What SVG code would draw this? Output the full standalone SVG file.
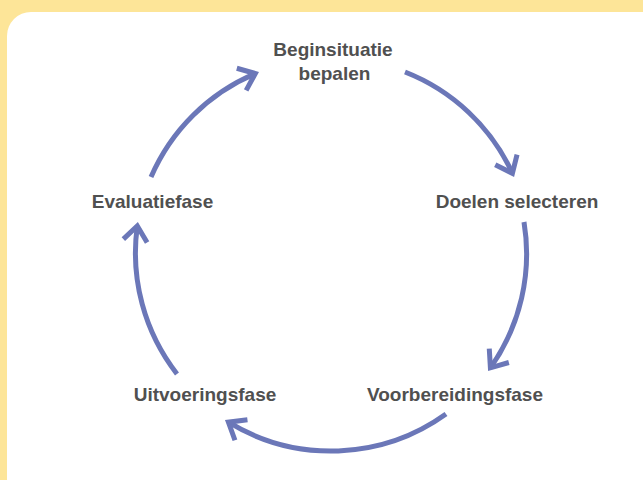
<svg xmlns="http://www.w3.org/2000/svg" width="643" height="480" viewBox="0 0 643 480">
  <defs>
    <style>
      .lbl { font-family: "Liberation Sans", Arial, sans-serif; font-weight: bold; font-size: 19px; fill: #505050; text-anchor: middle; }
      .arc { fill: none; stroke: #6b77b8; stroke-width: 5; marker-end: url(#head); }
    </style>
    <marker id="head" markerUnits="userSpaceOnUse" orient="auto" refX="0" refY="0" markerWidth="40" markerHeight="40" viewBox="-20 -20 40 40" overflow="visible">
      <path d="M -15 -12 L 0 0 L -15 12" fill="none" stroke="#6b77b8" stroke-width="5" stroke-linejoin="miter"/>
    </marker>
  </defs>
  <rect x="0" y="0" width="643" height="480" fill="#fde598"/>
  <rect x="7" y="12" width="660" height="490" rx="24" ry="24" fill="#ffffff"/>

  <g id="connectors">
    <path class="arc" d="M 405 72 A 197 197 0 0 1 512.4 173.3"/>
    <path class="arc" d="M 524 222 A 197 197 0 0 1 490.4 367.8"/>
    <path class="arc" d="M 446 414 A 197 197 0 0 1 228.4 422.2"/>
    <path class="arc" d="M 177 374 A 197 197 0 0 1 137.3 225.9"/>
    <path class="arc" d="M 151 177 A 197 197 0 0 1 255.3 73.5"/>
  </g>

  <g id="node-beginsituatie">
    <text class="lbl" x="333" y="56">Beginsituatie</text>
    <text class="lbl" x="334.5" y="80">bepalen</text>
  </g>
  <g id="node-doelen">
    <text class="lbl" x="517" y="208">Doelen selecteren</text>
  </g>
  <g id="node-voorbereiding">
    <text class="lbl" x="455" y="401">Voorbereidingsfase</text>
  </g>
  <g id="node-uitvoering">
    <text class="lbl" x="205" y="401">Uitvoeringsfase</text>
  </g>
  <g id="node-evaluatie">
    <text class="lbl" x="152.5" y="208">Evaluatiefase</text>
  </g>
</svg>
